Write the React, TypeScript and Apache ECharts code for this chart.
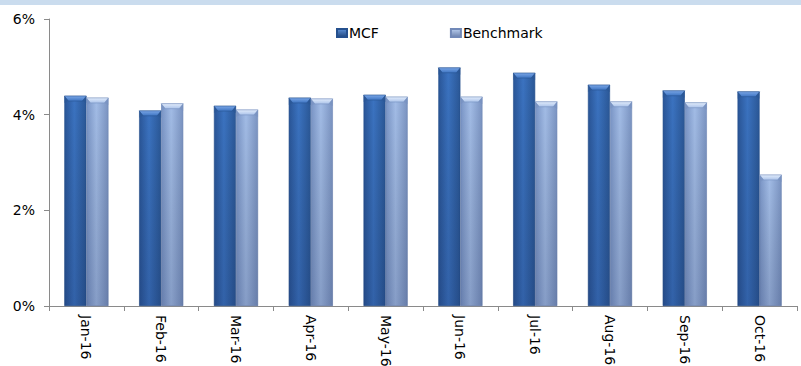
import React, { useEffect, useRef } from "react";
import * as echarts from "echarts";

const categories = ["Jan-16", "Feb-16", "Mar-16", "Apr-16", "May-16", "Jun-16", "Jul-16", "Aug-16", "Sep-16", "Oct-16"];
const mcfValues = [4.39, 4.08, 4.18, 4.35, 4.41, 4.98, 4.87, 4.62, 4.5, 4.48];
const benchmarkValues = [4.35, 4.23, 4.1, 4.33, 4.37, 4.37, 4.27, 4.27, 4.25, 2.74];
const yTicks = [0, 2, 4, 6];

const FONT = "DejaVu Sans, Verdana, sans-serif";
const CATEGORY_GAP = 0.41;

const hGrad = (edge: string, mid: string, edge2: string) =>
  new echarts.graphic.LinearGradient(0, 0, 1, 0, [
    { offset: 0, color: edge },
    { offset: 0.45, color: mid },
    { offset: 1, color: edge2 },
  ]);

const vGrad = (top: string, bottom: string) =>
  new echarts.graphic.LinearGradient(0, 0, 0, 1, [
    { offset: 0, color: top },
    { offset: 1, color: bottom },
  ]);

// bevel caps + bottom shading drawn over each bar pair
const capColors = [
  { light: "#7aa6e6", mid: "#3d74c2", edge: "#2a5594" },
  { light: "#e2ecfb", mid: "#abc3ea", edge: "#7690c0" },
];

function renderBevel(params: any, api: any) {
  const idx = api.value(0);
  const bandW = api.size([1, 0])[0];
  const barW = (bandW * (1 - CATEGORY_GAP)) / 2;
  const children: any[] = [];
  for (let s = 0; s < 2; s++) {
    const v = api.value(1 + s);
    const top = api.coord([idx, v]);
    const base = api.coord([idx, 0]);
    const x0 = top[0] - barW + s * barW;
    const x1 = x0 + barW;
    const y = top[1];
    const h = base[1] - y;
    const c = capColors[s];
    const bev = 5;
    children.push({
      type: "rect",
      shape: { x: x0, y, width: barW, height: h },
      style: { fill: vGrad("rgba(0,0,0,0)", "rgba(10,20,60,0.18)") },
      silent: true,
    });
    children.push({
      type: "polygon",
      shape: { points: [[x0, y], [x1, y], [x1 - 4, y + bev], [x0 + 4, y + bev]] },
      style: { fill: vGrad(c.light, c.mid), stroke: c.edge, lineWidth: 0.6 },
      silent: true,
    });
    children.push({
      type: "polygon",
      shape: { points: [[x0, y], [x0 + 4, y + bev], [x0, y + bev + 2]] },
      style: { fill: c.edge, opacity: 0.55 },
      silent: true,
    });
    children.push({
      type: "polygon",
      shape: { points: [[x1, y], [x1 - 4, y + bev], [x1, y + bev + 2]] },
      style: { fill: c.edge, opacity: 0.55 },
      silent: true,
    });
  }
  return { type: "group", children };
}

export default function App() {
  const ref = useRef<HTMLDivElement>(null);

  useEffect(() => {
    if (!ref.current) return;
    const chart = echarts.init(ref.current, undefined, { renderer: "svg" });
    const bevelData = categories.map((_, i) => [i, mcfValues[i], benchmarkValues[i]]);
    chart.setOption({
      animation: false,
      backgroundColor: "#ffffff",
      graphic: [
        { type: "rect", left: 0, top: 0, shape: { width: 801, height: 5 }, style: { fill: "#cadcee" }, silent: true },
      ],
      legend: {
        top: 26,
        left: 336,
        padding: 0,
        itemGap: 71,
        itemWidth: 10,
        itemHeight: 8,
        icon: "rect",
        textStyle: { fontFamily: FONT, fontSize: 14, color: "#000", padding: [0, 0, 0, -3] },
        data: [
          { name: "MCF", itemStyle: { color: vGrad("#5b8fd6", "#23487f") } },
          { name: "Benchmark", itemStyle: { color: vGrad("#b8cdee", "#6c82ae") } },
        ],
      },
      grid: { left: 49, right: 4, top: 19, bottom: 60, containLabel: false, outerBoundsMode: "none" },
      xAxis: {
        type: "category",
        data: categories,
        axisLine: { lineStyle: { color: "#8a8a8a", width: 1 } },
        axisTick: { show: true, length: 5, lineStyle: { color: "#8a8a8a" } },
        axisLabel: {
          rotate: -90,
          margin: 9,
          fontFamily: FONT,
          fontSize: 14,
          color: "#000",
        },
      },
      yAxis: {
        type: "value",
        min: yTicks[0],
        max: yTicks[yTicks.length - 1],
        interval: 2,
        splitLine: { show: false },
        axisLine: { show: true, lineStyle: { color: "#8a8a8a", width: 1 } },
        axisTick: { show: true, length: 5, lineStyle: { color: "#8a8a8a" } },
        axisLabel: {
          fontFamily: FONT,
          fontSize: 14,
          color: "#000",
          margin: 14,
          formatter: (v: number) => `${v}%`,
        },
      },
      series: [
        {
          name: "MCF",
          type: "bar",
          data: mcfValues,
          barGap: "0%",
          barCategoryGap: `${CATEGORY_GAP * 100}%`,
          itemStyle: {
            color: hGrad("#2a5698", "#3b73c1", "#2b5897"),
            borderColor: "#25508e",
            borderWidth: 0.6,
          },
        },
        {
          name: "Benchmark",
          type: "bar",
          data: benchmarkValues,
          itemStyle: {
            color: hGrad("#7a95c6", "#a2bce6", "#7b94c2"),
            borderColor: "#7189b8",
            borderWidth: 0.6,
          },
        },
        {
          name: "bevel",
          type: "custom",
          data: bevelData,
          encode: { x: 0, y: [1, 2] },
          renderItem: renderBevel,
          clip: false,
          z: 5,
          silent: true,
        },
      ],
    });
    return () => chart.dispose();
  }, []);

  return (
    <div
      ref={ref}
      style={{ position: "fixed", left: 0, top: 0, width: 801, height: 366 }}
    />
  );
}
